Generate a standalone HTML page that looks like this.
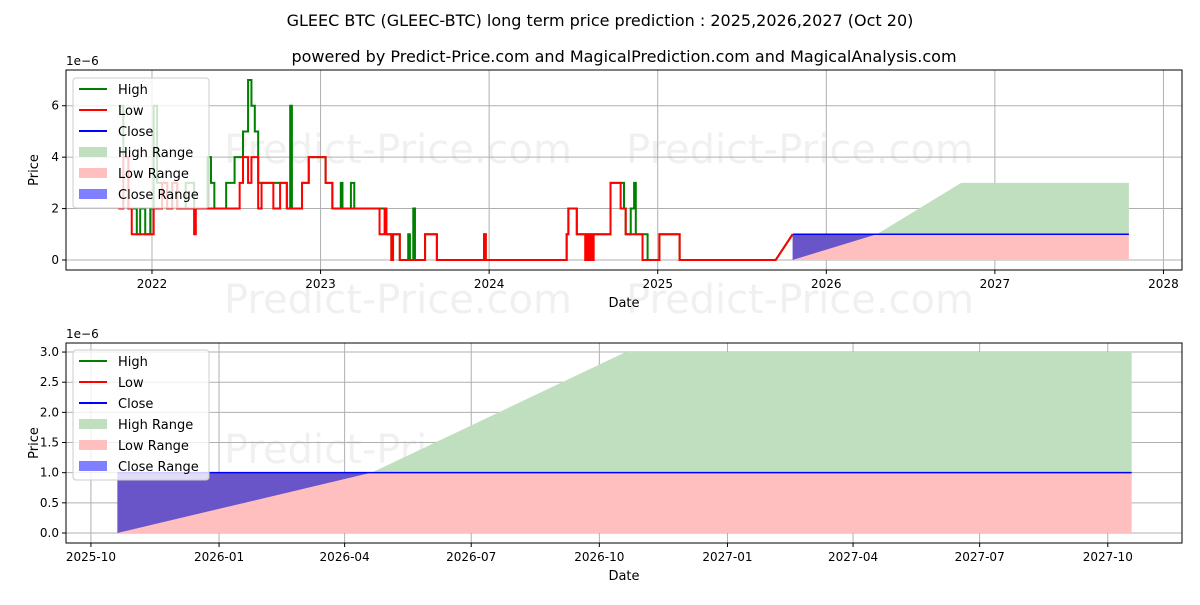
<!DOCTYPE html>
<html><head><meta charset="utf-8"><style>
body{margin:0;background:#fff;font-family:"Liberation Sans","DejaVu Sans",sans-serif}
svg text{font-family:"DejaVu Sans","Liberation Sans",sans-serif}
</style></head><body>
<svg id="c" width="1200" height="600" xmlns="http://www.w3.org/2000/svg">
<rect width="1200" height="600" fill="#fff"/>
<text x="600" y="26" text-anchor="middle" font-size="16">GLEEC BTC (GLEEC-BTC) long term price prediction : 2025,2026,2027 (Oct 20)</text>
<text x="624" y="62" text-anchor="middle" font-size="16">powered by Predict-Price.com and MagicalPrediction.com and MagicalAnalysis.com</text>
</svg>
<script>
// historical data: dates (fractional year), high and low (x1e-6)
const histDates=[2021.80,2021.83,2021.86,2021.88,2021.91,2021.93,2021.96,2021.99,2022.01,2022.03,2022.06,2022.09,2022.12,2022.15,2022.20,2022.25,2022.26,2022.33,2022.35,2022.37,2022.44,2022.49,2022.52,2022.54,2022.57,2022.59,2022.61,2022.63,2022.65,2022.72,2022.76,2022.80,2022.82,2022.83,2022.89,2022.93,2023.03,2023.07,2023.12,2023.13,2023.18,2023.20,2023.35,2023.38,2023.39,2023.42,2023.43,2023.47,2023.52,2023.53,2023.55,2023.56,2023.62,2023.69,2023.97,2023.98,2024.46,2024.47,2024.52,2024.57,2024.58,2024.59,2024.60,2024.61,2024.62,2024.72,2024.78,2024.80,2024.81,2024.84,2024.86,2024.87,2024.91,2024.94,2025.01,2025.13,2025.70,2025.80];
const histHigh=[6,4,2,2,1,2,1,2,6,3,3,2,3,2,3,2,2,4,3,2,3,4,4,5,7,6,5,3,3,3,3,2,6,2,3,4,3,2,3,2,3,2,2,2,1,0,1,0,1,0,2,0,1,0,1,0,1,2,1,1,1,1,1,1,1,3,3,2,1,2,3,1,1,0,1,0,0,1];
const histLow=[2,4,2,1,1,1,1,1,2,2,3,2,3,2,2,1,2,2,2,2,2,2,3,4,3,4,4,2,3,2,3,2,2,2,3,4,3,2,2,2,2,2,1,2,1,0,1,0,0,0,0,0,1,0,1,0,1,2,1,0,1,0,1,0,1,3,2,2,1,1,1,1,0,0,1,0,0,1];
// forecast
const fcDates=[2025.80,2026.30,2026.80,2027.795];
const fcClose=[1,1,1,1];
const fcLowUpper=[0,1,1,1];
const fcHighUpper=[1,1,3,3];
const topYTicks=[0,2,4,6];
const topXTicks=[2022,2023,2024,2025,2026,2027,2028];
const botYTicks=[0,0.5,1,1.5,2,2.5,3];
const botXTicks=[2025.748,2026.0,2026.247,2026.496,2026.748,2027.0,2027.247,2027.496,2027.748];
const botXLabels=["2025-10","2026-01","2026-04","2026-07","2026-10","2027-01","2027-04","2027-07","2027-10"];

const svg=document.getElementById('c');const NS='http://www.w3.org/2000/svg';
function el(tag,attrs,parent){const e=document.createElementNS(NS,tag);for(const k in attrs)e.setAttribute(k,attrs[k]);(parent||svg).appendChild(e);return e;}
function panel(box,xd,yd,name){
  const g=el('g',{});
  
  
  const sx=v=>box.l+(v-xd[0])/(xd[1]-xd[0])*(box.r-box.l);
  const sy=v=>box.b-(v-yd[0])/(yd[1]-yd[0])*(box.b-box.t);
  return {g,sx,sy};
}
function wm(g,y){
  [[398],[800]].forEach(([x])=>{const t=el('text',{x:x,y:y,'text-anchor':'middle','font-size':40,fill:'#000','fill-opacity':0.06},g);t.textContent='Predict-Price.com';
  
  });
}
function grid(P,box,xt,yt){
  xt.forEach(v=>el('line',{x1:P.sx(v),x2:P.sx(v),y1:box.t,y2:box.b,stroke:'#b0b0b0','stroke-width':1},P.g));
  yt.forEach(v=>el('line',{x1:box.l,x2:box.r,y1:P.sy(v),y2:P.sy(v),stroke:'#b0b0b0','stroke-width':1},P.g));
}
function axes(P,box,xt,xl,yt,yl){
  el('rect',{x:box.l,y:box.t,width:box.r-box.l,height:box.b-box.t,fill:'none',stroke:'#000','stroke-width':1},P.g);
  xt.forEach((v,i)=>{const x=P.sx(v);el('line',{x1:x,x2:x,y1:box.b,y2:box.b+4,stroke:'#000'},P.g);
    const t=el('text',{x:x,y:box.b+18,'text-anchor':'middle','font-size':12},P.g);t.textContent=xl[i];
    
    });
  yt.forEach((v,i)=>{const y=P.sy(v);el('line',{x1:box.l-4,x2:box.l,y1:y,y2:y,stroke:'#000'},P.g);
    const t=el('text',{x:box.l-7,y:y+4,'text-anchor':'end','font-size':12},P.g);t.textContent=yl[i];
    
    });
  const e=el('text',{x:box.l,y:box.t-5,'font-size':12},P.g);e.textContent='1e−6';
  
  
  const xl2=el('text',{x:(box.l+box.r)/2,y:box.b+37,'text-anchor':'middle','font-size':13},P.g);xl2.textContent='Date';
  
  
  const yl2=el('text',{x:0,y:0,'text-anchor':'middle','font-size':13,transform:`translate(${box.l-28},${(box.t+box.b)/2}) rotate(-90)`},P.g);yl2.textContent='Price';
  
  
}
function forecast(P){
  const xs=fcDates.map(P.sx);
  const poly=(up,lo)=>xs.map((x,i)=>x+','+P.sy(up[i])).join(' ')+' '+xs.map((x,i)=>x+','+P.sy(lo[i])).reverse().join(' ');
  const zeros=fcDates.map(()=>0),ones=fcDates.map(()=>1);
  const h=el('polygon',{points:poly(fcHighUpper,ones),fill:'#c0dfbf'},P.g);
  
  
  const l=el('polygon',{points:poly(fcLowUpper,zeros),fill:'#ffbfbf'},P.g);
  
  
  const c=el('polygon',{points:poly(fcClose,fcLowUpper),fill:'#6a55c8'},P.g);
  
  
  const cl=el('polyline',{points:xs.map((x,i)=>x+','+P.sy(fcClose[i])).join(' '),fill:'none',stroke:'#0000ff','stroke-width':1.5},P.g);
  
  
}
function stepPts(P,vals){
  const pts=[];
  for(let i=0;i<histDates.length;i++){
    const x=P.sx(histDates[i]);
    if(i>0&&i<histDates.length-1)pts.push(x+','+P.sy(vals[i-1]));
    pts.push(x+','+P.sy(vals[i]));
  }
  return pts.join(' ');
}
function legend(g,x,y){
  const lg=el('g',{},g);
  
  
  el('rect',{x:x,y:y,width:136,height:130,rx:3,fill:'#fff','fill-opacity':0.8,stroke:'#ccc'},lg);
  const items=[['High','line','#008000'],['Low','line','#ff0000'],['Close','line','#0000ff'],['High Range','box','#c0dfbf'],['Low Range','box','#ffbfbf'],['Close Range','box','#7f7fff']];
  items.forEach((it,i)=>{const yy=y+11+i*21;
    const e=el('g',{},lg);
    
    
    if(it[1]=='line')el('line',{x1:x+6,x2:x+34,y1:yy,y2:yy,stroke:it[2],'stroke-width':2},e);
    else el('rect',{x:x+6,y:yy-5,width:28,height:10,fill:it[2]},e);
    const t=el('text',{x:x+45,y:yy+5,'font-size':13},e);t.textContent=it[0];});
}
// top panel
const B1={l:66,r:1182,t:70,b:270};
const P1=panel(B1,[2021.49,2028.11],[-0.39,7.39],'top-panel');
wm(P1.g,163);
grid(P1,B1,topXTicks,topYTicks);
forecast(P1);
const hl=el('polyline',{points:stepPts(P1,histHigh),fill:'none',stroke:'#008000','stroke-width':2},P1.g);


const ll=el('polyline',{points:stepPts(P1,histLow),fill:'none',stroke:'#ff0000','stroke-width':2},P1.g);


axes(P1,B1,topXTicks,topXTicks.map(String),topYTicks,topYTicks.map(String));
legend(P1.g,73,78);
wm(svg,313);
// bottom panel
const B2={l:66,r:1182,t:343,b:543};
const P2=panel(B2,[2025.699,2027.894],[-0.166,3.15],'bottom-panel');
wm(P2.g,463);
grid(P2,B2,botXTicks,botYTicks);
forecast(P2);
axes(P2,B2,botXTicks,botXLabels,botYTicks,botYTicks.map(v=>v.toFixed(1)));
legend(P2.g,73,350);
</script>
</body></html>
